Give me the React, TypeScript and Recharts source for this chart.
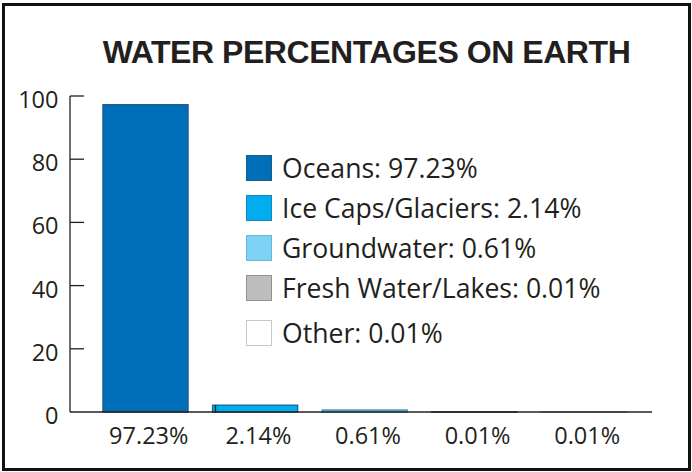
import { Bar, BarChart, Cell, Legend, ReferenceLine, XAxis, YAxis } from "recharts";

// Values as printed on the chart (percent of all water on Earth).
const CATEGORIES = ["Oceans", "Ice Caps/Glaciers", "Groundwater", "Fresh Water/Lakes", "Other"];
const PERCENTS = [97.23, 2.14, 0.61, 0.01, 0.01];
const Y_TICKS = [0, 20, 40, 60, 80, 100];

const BAR_FILL = ["#006fba", "#00aeef", "#7dd3f6", "#bcbec0", "#ffffff"];
const BAR_STROKE = ["#245c8e", "#1f6f9a", "#4f97b5", "#231f20", "#9a9a9a"];
const SWATCH_STROKE = ["#1f5a8c", "#1a86bd", "#6fb6d4", "#8f9193", "#c8c8c8"];

const INK = "#231f20";
const SANS = "'Open Sans', 'Noto Sans', sans-serif";

const rows = CATEGORIES.map((name, i) => ({ name, value: PERCENTS[i] }));
const pct = (v: number) => `${v.toFixed(2)}%`;

function YTick({ x, y, payload }: any) {
  const axisX = x + 11.5;
  return (
    <g>
      {payload.value !== 0 && (
        <line x1={axisX} x2={axisX + 14} y1={y} y2={y} stroke={INK} strokeWidth={1.3} />
      )}
      <text x={x} y={y} dy={12} textAnchor="end" fill={INK} fontSize={23.5} fontFamily={SANS}>
        {payload.value}
      </text>
    </g>
  );
}

function LegendBox() {
  return (
    <div style={{ fontFamily: SANS, fontSize: 26.6, color: INK }}>
      {rows.map((r, i) => (
        <div
          key={r.name}
          style={{
            display: "flex",
            alignItems: "center",
            height: 40,
            marginTop: i === rows.length - 1 ? 5 : 0,
            whiteSpace: "nowrap",
          }}
        >
          <span
            style={{
              width: 26,
              height: 26,
              boxSizing: "border-box",
              border: `1.5px solid ${SWATCH_STROKE[i]}`,
              background: BAR_FILL[i],
              marginRight: 10,
              flex: "none",
            }}
          />
          {`${r.name}: ${pct(r.value)}`}
        </div>
      ))}
    </div>
  );
}

export default function App() {
  return (
    <div style={{ position: "absolute", left: 0, top: 0, width: 692, height: 472, background: "#fff" }}>
      <div
        style={{
          position: "absolute",
          left: 2,
          top: 3,
          width: 689,
          height: 468,
          boxSizing: "border-box",
          border: "3px solid #111",
        }}
      />
      <div
        style={{
          position: "absolute",
          left: 0,
          top: 36,
          width: 733,
          textAlign: "center",
          fontFamily: "'Liberation Sans', Arial, sans-serif",
          fontWeight: 700,
          fontSize: 32,
          lineHeight: "32px",
          letterSpacing: -0.45,
          color: INK,
          whiteSpace: "nowrap",
        }}
      >
        WATER PERCENTAGES ON EARTH
      </div>
      <div style={{ position: "absolute", left: 0, top: 0 }}>
        <BarChart
          width={692}
          height={472}
          data={rows}
          margin={{ top: 96, right: 40, bottom: 20, left: 0 }}
        >
          <XAxis
            dataKey="name"
            height={40}
            padding={{ left: 21, right: 13 }}
            tickLine={false}
            tickSize={0}
            tickMargin={15}
            interval={0}
            tickFormatter={(name: string) => pct(rows.find((r) => r.name === name)!.value)}
            tick={{ fill: INK, fontSize: 23.5, fontFamily: SANS, dx: 3 }}
            axisLine={{ stroke: INK, strokeWidth: 1.3 }}
          />
          <XAxis xAxisId="edge" type="number" domain={[0, 1]} hide />
          <YAxis
            width={70}
            domain={[0, 100]}
            ticks={Y_TICKS}
            interval={0}
            tickLine={false}
            tickSize={0}
            tickMargin={11.5}
            tick={YTick}
            axisLine={{ stroke: INK, strokeWidth: 1.3 }}
          />
          <Legend
            layout="vertical"
            align="center"
            verticalAlign="middle"
            content={() => <LegendBox />}
            wrapperStyle={{ left: 246, top: 148, width: 420 }}
          />
          <ReferenceLine
            xAxisId="edge"
            segment={[
              { x: 1, y: 0 },
              { x: 1, y: 2.2 },
            ]}
            stroke={INK}
            strokeWidth={1.3}
          />
          <Bar dataKey="value" barSize={85} strokeWidth={1.5} isAnimationActive={false}>
            {rows.map((r, i) => (
              <Cell key={r.name} fill={BAR_FILL[i]} stroke={BAR_STROKE[i]} />
            ))}
          </Bar>
        </BarChart>
      </div>
    </div>
  );
}
